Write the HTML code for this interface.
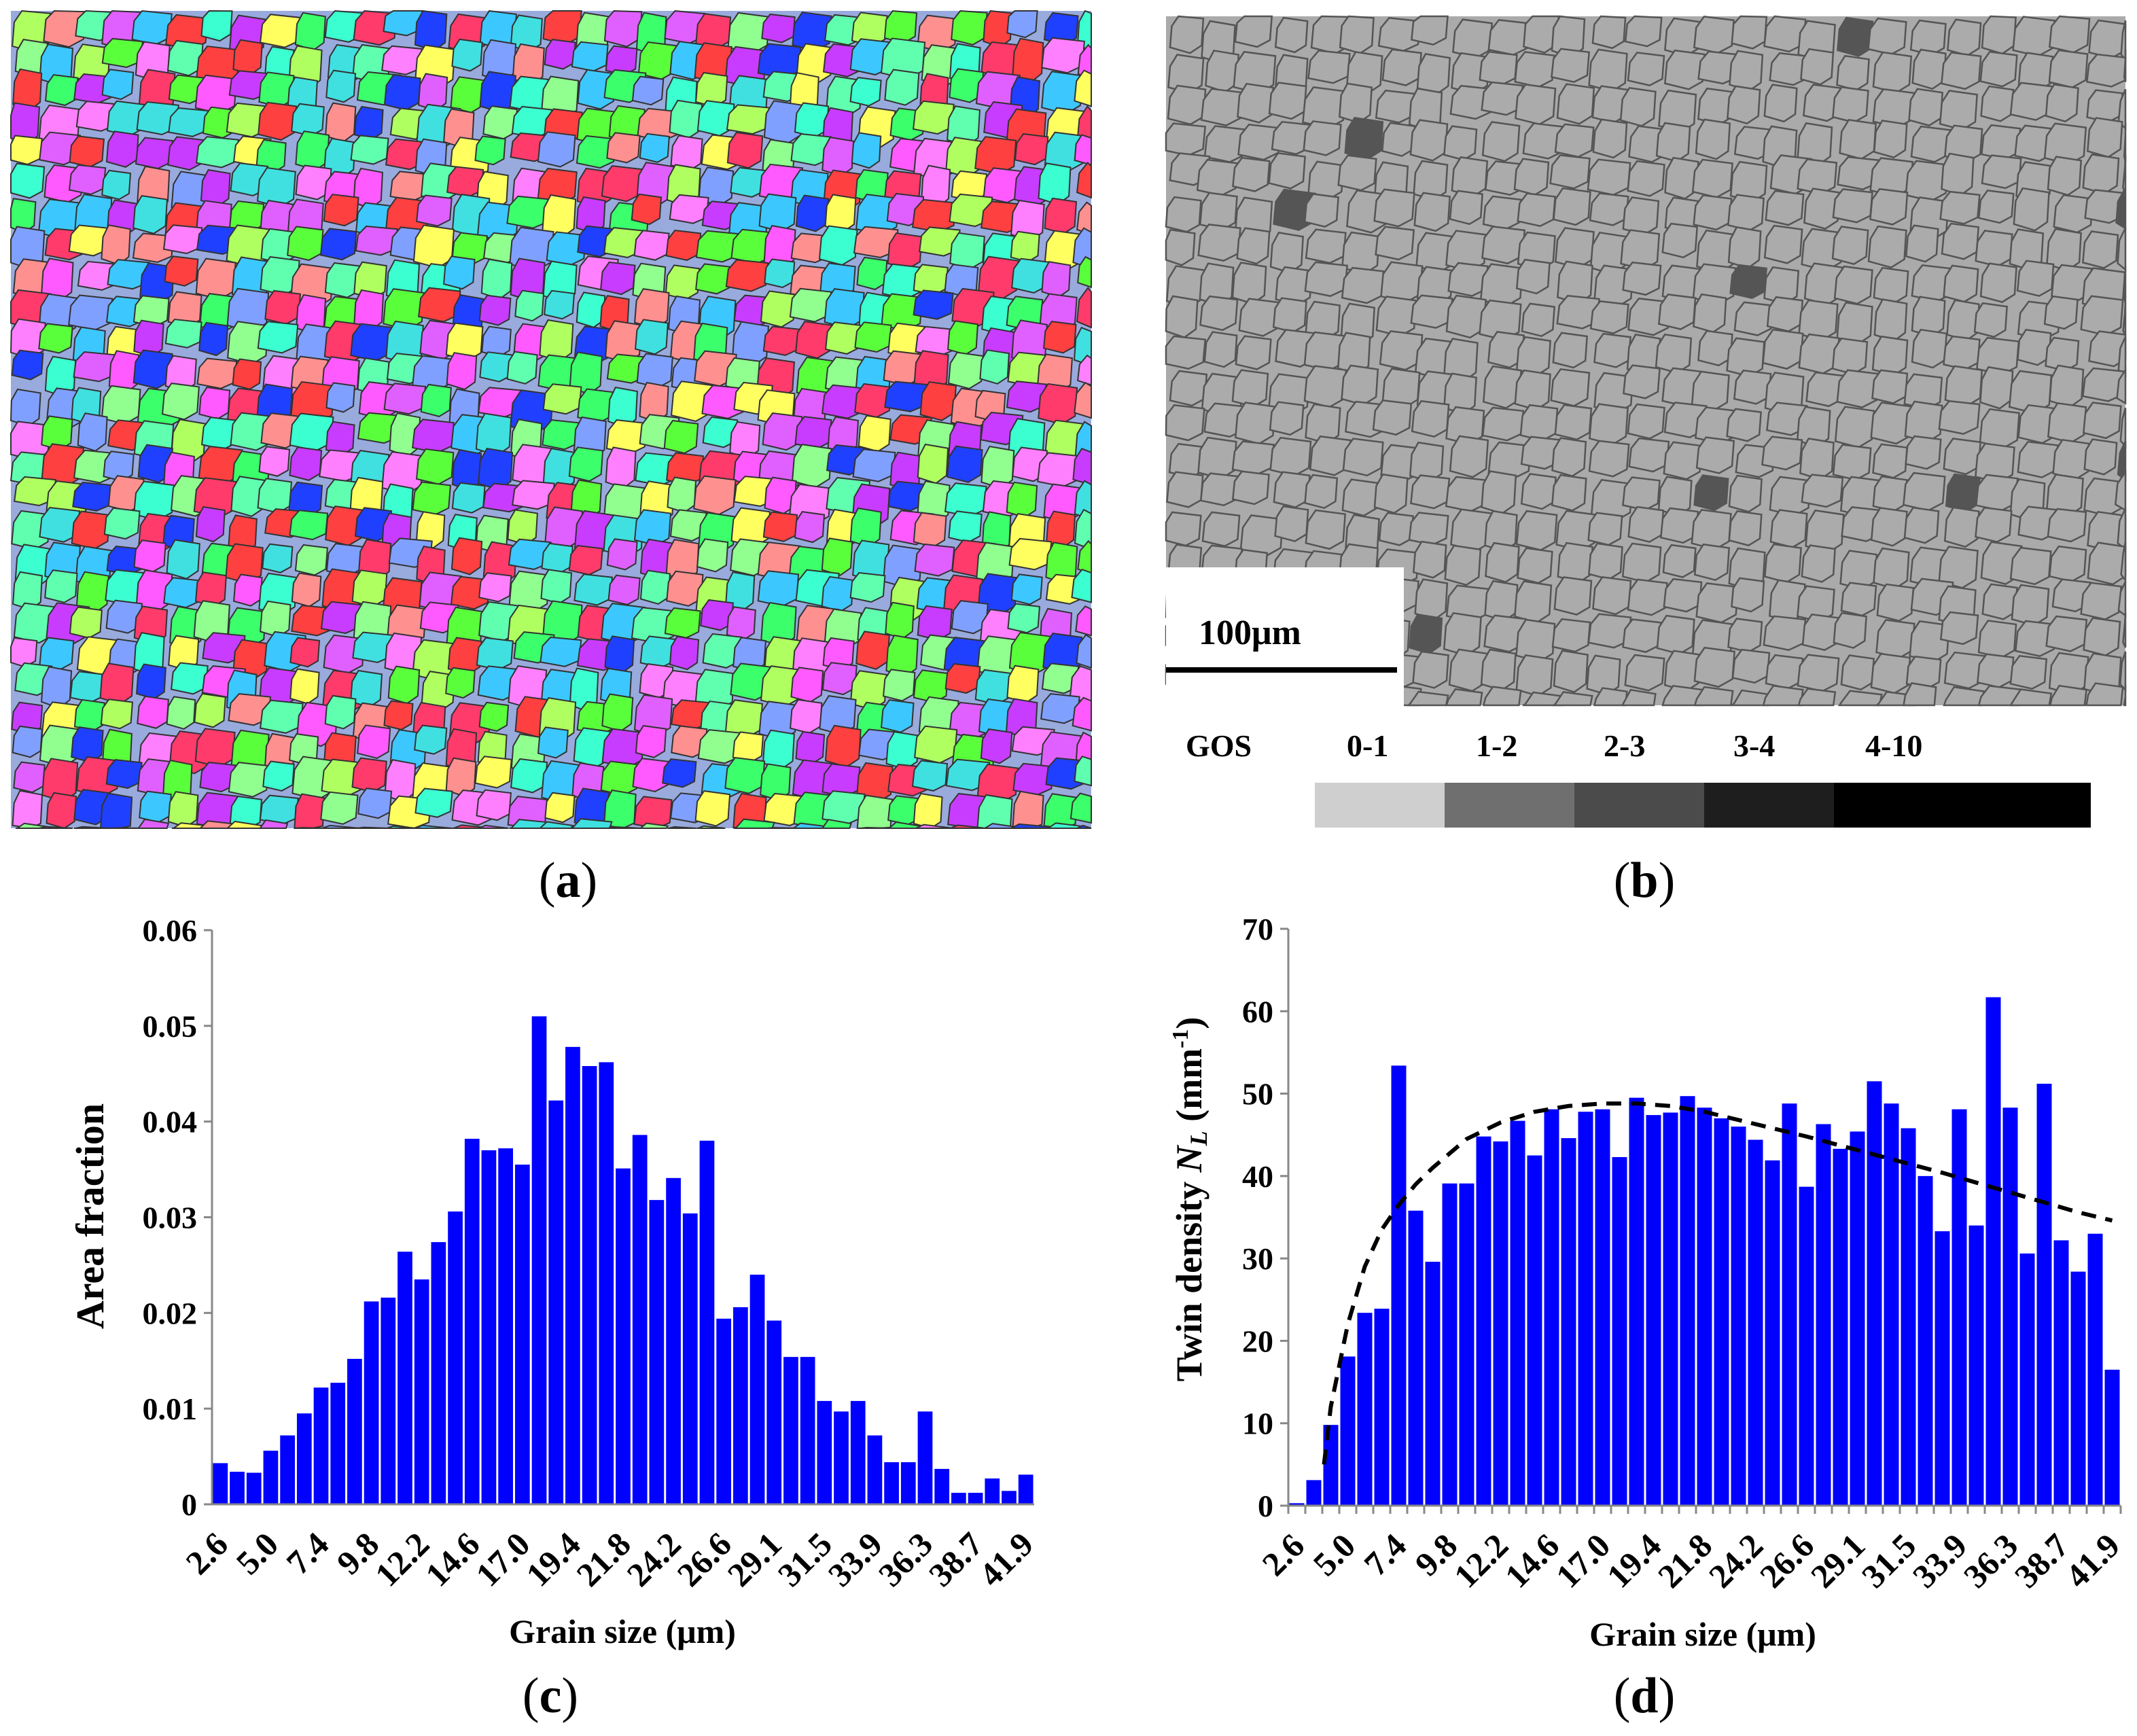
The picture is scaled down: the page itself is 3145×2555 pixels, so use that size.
<!DOCTYPE html>
<html><head><meta charset="utf-8">
<style>
html,body{margin:0;padding:0;background:#fff;}
svg{display:block;}
text{font-family:"Liberation Serif",serif;}
</style></head>
<body>
<svg id="fig" width="3145" height="2555" viewBox="0 0 3145 2555" xmlns="http://www.w3.org/2000/svg">
  <g id="panelA"></g>
  <g id="panelB"></g>
  <g id="legendB">
    <text x="1745" y="1113" font-size="46" font-weight="bold" font-family="Liberation Sans, sans-serif">GOS</text>
    <text x="1982" y="1113" font-size="46" font-weight="bold">0-1</text>
    <text x="2172" y="1113" font-size="46" font-weight="bold">1-2</text>
    <text x="2360" y="1113" font-size="46" font-weight="bold">2-3</text>
    <text x="2551" y="1113" font-size="46" font-weight="bold">3-4</text>
    <text x="2745" y="1113" font-size="46" font-weight="bold">4-10</text>
    <rect x="1935" y="1152" width="191" height="66" fill="#cfcfcf"/>
    <rect x="2126" y="1152" width="191" height="66" fill="#6f6f6f"/>
    <rect x="2317" y="1152" width="191" height="66" fill="#4b4b4b"/>
    <rect x="2508" y="1152" width="191" height="66" fill="#1e1e1e"/>
    <rect x="2699" y="1152" width="378" height="66" fill="#000"/>
  </g>
  <text x="836" y="1320" font-size="74" text-anchor="middle">(<tspan font-weight="bold">a</tspan>)</text>
  <text x="2420" y="1320" font-size="74" text-anchor="middle">(<tspan font-weight="bold">b</tspan>)</text>
  <text x="810" y="2520" font-size="74" text-anchor="middle">(<tspan font-weight="bold">c</tspan>)</text>
  <text x="2420" y="2520" font-size="74" text-anchor="middle">(<tspan font-weight="bold">d</tspan>)</text>
  <g id="chartC"></g>
  <g id="chartD"></g>
</svg>
<script>
// ---- Chart data ----
const grainSizes = [];
for (let i = 0; i < 49; i++) grainSizes.push(i);
const tickLabels = ["2.6","5.0","7.4","9.8","12.2","14.6","17.0","19.4","21.8","24.2","26.6","29.1","31.5","33.9","36.3","38.7","41.9"];
const areaFraction = [0.0043,0.0034,0.0033,0.0056,0.0072,0.0095,0.0122,0.0127,0.0152,0.0212,0.0216,0.0264,0.0235,0.0274,0.0306,0.0382,0.0370,0.0372,0.0355,0.0510,0.0422,0.0478,0.0458,0.0462,0.0351,0.0386,0.0318,0.0341,0.0304,0.0380,0.0194,0.0206,0.0240,0.0192,0.0154,0.0154,0.0108,0.0097,0.0108,0.0072,0.0044,0.0044,0.0097,0.0037,0.0012,0.0012,0.0027,0.0014,0.0031];
const twinDensity = [0.3,3.1,9.8,18.1,23.4,23.9,53.4,35.8,29.6,39.1,39.1,44.8,44.2,46.7,42.5,48.1,44.6,47.8,48.1,42.3,49.5,47.4,47.7,49.7,48.3,47.0,46.0,44.4,41.9,48.8,38.7,46.3,43.3,45.4,51.5,48.8,45.8,40.0,33.3,48.1,34.0,61.7,48.3,30.6,51.2,32.2,28.4,33.0,16.5];
const fitIndex = [1.6,2,3,4,5,6,7,8,10,12,14,16,18,20,22,24,26,28,30,32,34,36,38,40,42,44,46,48];
const fitValue = [5,12,22,29,33.5,36.5,39,41,44.5,46.5,47.8,48.5,48.8,48.8,48.5,47.8,46.8,45.8,44.8,43.7,42.6,41.5,40.4,39.2,38,36.8,35.6,34.6];
const cTicks = [0,0.01,0.02,0.03,0.04,0.05,0.06];
const cTickText = ["0","0.01","0.02","0.03","0.04","0.05","0.06"];
const dTicks = [0,10,20,30,40,50,60,70];

const NS = "http://www.w3.org/2000/svg";
function mk(tag, attrs, parent){const e=document.createElementNS(NS,tag);for(const k in attrs)e.setAttribute(k,attrs[k]);parent.appendChild(e);return e;}

function drawChart(g, cfg){
  const n = grainSizes.length;
  const bw = (cfg.x1 - cfg.x0)/n;
  const xs = i => cfg.x0 + bw*(i+0.5);
  const ys = v => cfg.y0 - (v - 0)/(cfg.vmax)*(cfg.y0-cfg.y1);
  cfg.values.forEach((v,i)=>{
    const r = mk('rect',{x:xs(grainSizes[i])-bw*0.44,y:ys(v),width:bw*0.88,height:cfg.y0-ys(v),fill:'#0000ff'},g);
    
    
  });
  const ya = mk('line',{x1:cfg.x0,y1:cfg.y0,x2:cfg.x0,y2:cfg.y1,stroke:'#888','stroke-width':3},g);
  
  
  cfg.ticks.forEach((t,k)=>{
    const y = ys(t);
    mk('line',{x1:cfg.x0-12,y1:y,x2:cfg.x0,y2:y,stroke:'#888','stroke-width':3},g);
    const tx = mk('text',{x:cfg.x0-22,y:y+16,'font-size':46,'font-weight':'bold','text-anchor':'end'},g);
    tx.textContent = cfg.tickText[k];
    
    
  });
  const xa = mk('line',{x1:cfg.x0-10,y1:cfg.y0,x2:cfg.x1,y2:cfg.y0,stroke:'#888','stroke-width':3},g);
  
  
  if (cfg.xticks){
    for(let i=0;i<=n;i++){const x=cfg.x0+bw*i;mk('line',{x1:x,y1:cfg.y0,x2:x,y2:cfg.y0+12,stroke:'#888','stroke-width':3},g);}
  }
  tickLabels.forEach((lab,k)=>{
    const x = xs(grainSizes[Math.min(k*3,n-1)]);
    const y = cfg.y0 + 62;
    const t = mk('text',{x:x+14,y:y,'font-size':50,'font-weight':'bold','text-anchor':'end',transform:`rotate(-45 ${x+14} ${y})`},g);
    t.textContent = lab;
    
    
  });
  return {xs,ys,bw};
}

const gC = document.getElementById('chartC');
drawChart(gC,{x0:312,x1:1522,y0:2214,y1:1369,vmax:0.06,values:areaFraction,ticks:cTicks,tickText:cTickText,xticks:false});
let t = mk('text',{x:152,y:1790,'font-size':58,'font-weight':'bold','text-anchor':'middle',transform:'rotate(-90 152 1790)'},gC);
t.textContent='Area fraction';


t = mk('text',{x:916,y:2418,'font-size':50,'font-weight':'bold','text-anchor':'middle'},gC);
t.textContent='Grain size (μm)';



const gD = document.getElementById('chartD');
const sc = drawChart(gD,{x0:1896,x1:3121,y0:2216,y1:1367,vmax:70,values:twinDensity,ticks:dTicks,tickText:dTicks.map(String),xticks:true});
let pts = fitIndex.map((ix,k)=>sc.xs(ix)+','+sc.ys(fitValue[k])).join(' ');
const fit = mk('polyline',{points:pts,fill:'none',stroke:'#000','stroke-width':6,'stroke-dasharray':'22 14'},gD);


t = mk('text',{x:1768,y:1765,'font-size':54,'font-weight':'bold','text-anchor':'middle',transform:'rotate(-90 1768 1765)'},gD);
t.innerHTML='Twin density <tspan font-style="italic">N</tspan><tspan font-style="italic" font-size="36" dy="8">L</tspan><tspan dy="-8"> (mm</tspan><tspan font-size="34" dy="-20">-1</tspan><tspan dy="20">)</tspan>';


t = mk('text',{x:2506,y:2422,'font-size':50,'font-weight':'bold','text-anchor':'middle'},gD);
t.textContent='Grain size (μm)';



// ---- Micrograph textures (decorative) ----
let seed = 12345;
function rnd(){seed=(seed*1103515245+12345)%2147483648;return seed/2147483648;}
const pal=['#ff3b6b','#3bff6b','#5aff3c','#ff5aff','#c83cff','#3cc8ff','#3bffd0','#ff4040','#2040ff','#ffff60','#60ffb0','#ff80ff','#b0ff60','#80a0ff','#ff9090','#e060ff','#40e0e0','#90ff90'];
const gA = document.getElementById('panelA');
mk('rect',{x:16,y:16,width:1590,height:1203,fill:'#9ad'},gA);
const cellA = 46;
for(let r=0;r<1203/cellA;r++){for(let c=0;c<1590/cellA;c++){
  const x=16+c*cellA+(rnd()-0.5)*14, y=16+r*cellA+(rnd()-0.5)*14;
  const w=cellA*(0.9+rnd()*0.5), h=cellA*(0.9+rnd()*0.5);
  const p=[[x+w*0.25,y],[x+w,y+h*0.1],[x+w*0.95,y+h*0.8],[x+w*0.6,y+h],[x,y+h*0.85],[x+w*0.05,y+h*0.3]].map(q=>[Math.min(Math.max(q[0],16),1606),Math.min(Math.max(q[1],16),1219)].join(',')).join(' ');
  mk('polygon',{points:p,fill:pal[Math.floor(rnd()*pal.length)],stroke:'#333','stroke-width':2},gA);
}}
const gB = document.getElementById('panelB');
mk('rect',{x:1716,y:24,width:1412,height:1014,fill:'#aaaaaa'},gB);
const cellB=52;
for(let r=0;r<1014/cellB;r++){for(let c=0;c<1412/cellB;c++){
  const x=1716+c*cellB+(rnd()-0.5)*14, y=24+r*cellB+(rnd()-0.5)*14;
  const w=cellB*(0.9+rnd()*0.3), h=cellB*(0.9+rnd()*0.3);
  const dark = rnd()<0.02;
  const p=[[x+w*0.25,y],[x+w,y+h*0.1],[x+w*0.95,y+h*0.8],[x+w*0.6,y+h],[x,y+h*0.85],[x+w*0.05,y+h*0.3]].map(q=>[Math.min(Math.max(q[0],1716),3128),Math.min(Math.max(q[1],24),1038)].join(',')).join(' ');
  mk('polygon',{points:p,fill:dark?'#555':'#ababab',stroke:'#555','stroke-width':2.5},gB);
}}
mk('rect',{x:1716,y:835,width:350,height:210,fill:'#fff'},gB);
const sb = mk('line',{x1:1716,y1:986,x2:2056,y2:986,stroke:'#000','stroke-width':8},gB);


t = mk('text',{x:1764,y:948,'font-size':52,'font-weight':'bold','font-family':'Liberation Sans, sans-serif'},gB);
t.textContent='100μm';


</script>
</body></html>
